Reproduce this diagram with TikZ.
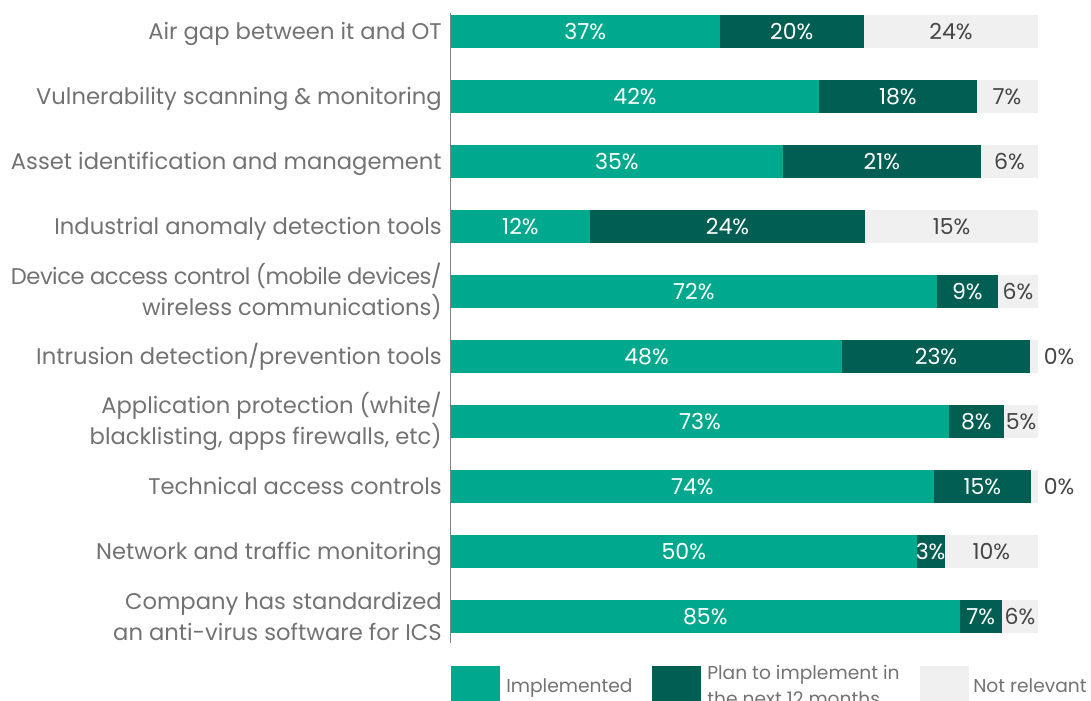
\documentclass[tikz,border=0pt]{standalone}
\usepackage{fontspec}
\setmainfont{Poppins}
\definecolor{impl}{HTML}{00A88E}
\definecolor{plan}{HTML}{005E52}
\definecolor{nrel}{HTML}{F0F0F0}
\definecolor{lbl}{HTML}{727272}
\definecolor{val}{HTML}{454545}
\definecolor{axisc}{HTML}{808080}
\begin{document}
\begin{tikzpicture}[x=0.75pt,y=-0.75pt,
  cat/.style={anchor=base east, text=lbl, font=\fontsize{17}{23.6}\selectfont, inner sep=0pt},
  cat2/.style={anchor=east, text=lbl, font=\fontsize{17}{23.6}\selectfont, align=right, inner sep=0pt},
  pct/.style={anchor=base, font=\fontsize{16.5}{18}\selectfont, inner sep=0pt},
  pin/.style={pct, text=white},
  pout/.style={pct, text=val},
  leg/.style={anchor=base west, text=lbl, font=\fontsize{14}{19.9}\selectfont, align=left, inner sep=0pt},
  axisline/.style={draw=axisc, line width=1.1pt}]
\useasboundingbox (0,0) rectangle (1091,700);
\clip (0,0) rectangle (1091,700);
% bars
\foreach \i/\yc/\a/\b/\c/\pa/\pb/\pc/\lx in {
  1/31.3/719.6/864/1038/37/20/24/951,
  2/96.3/819/976.7/1038/42/18/7/1007,
  3/161.3/782.7/981/1038/35/21/6/1009.5,
  4/226.3/589.8/865.3/1038/12/24/15/951.6,
  5/291.3/936.7/998/1038/72/9/6/1018,
  6/356.8/842/1030/1038/48/23/0/1059,
  7/421.3/948.8/1003.9/1038/73/8/5/1021,
  8/486.3/933.7/1031/1038/74/15/0/1059,
  9/551.3/916.6/944.6/1038/50/3/10/991.3,
  10/616.3/959.6/1001.8/1038/85/7/6/1020}{
  \fill[impl] (451,\yc-16.35) rectangle (\a,\yc+16.35);
  \fill[plan] (\a,\yc-16.35) rectangle (\b,\yc+16.35);
  \fill[nrel] (\b,\yc-16.35) rectangle (\c,\yc+16.35);
  \node[pin] (pa\i) at ({(451+\a)/2},\yc+8) {\pa\%};
  \node[pin] (pb\i) at ({(\a+\b)/2},\yc+8) {\pb\%};
  \node[pout] (pc\i) at (\lx,\yc+8) {\pc\%};
}
% axis
\draw[axisline] (450.5,13) -- (450.5,643);
% category labels
\node[cat] (c1) at (442,39.3) {Air gap between it and OT};
\node[cat] (c2) at (442,104.3) {Vulnerability scanning \& monitoring};
\node[cat] (c3) at (442,169.3) {Asset identification and management};
\node[cat] (c4) at (442,234.3) {Industrial anomaly detection tools};
\node[cat2] (c5) at (442,291.3) {{\addfontfeature{LetterSpace=-2.2}Device access control (mobile devices/}\\wireless communications)};
\node[cat] (c6) at (442,364.8) {Intrusion detection/prevention tools};
\node[cat2] (c7) at (442,421.3) {Application protection (white/\\blacklisting, apps firewalls, etc)};
\node[cat] (c8) at (442,494.3) {Technical access controls};
\node[cat] (c9) at (442,559.3) {Network and traffic monitoring};
\node[cat2] (c10) at (442,616.3) {Company has standardized\\an anti-virus software for ICS};
% legend
\fill[impl] (451,666) rectangle (500,706);
\fill[plan] (652,666) rectangle (701,706);
\fill[nrel] (920,666) rectangle (969,706);
\node[leg] (l1) at (506,692.3) {Implemented};
\node[leg] (l2) at (707,705.8) {Plan to implement in\\the next 12 months};
\node[leg] (l3) at (973,692.3) {Not relevant};
\end{tikzpicture}
\end{document}
